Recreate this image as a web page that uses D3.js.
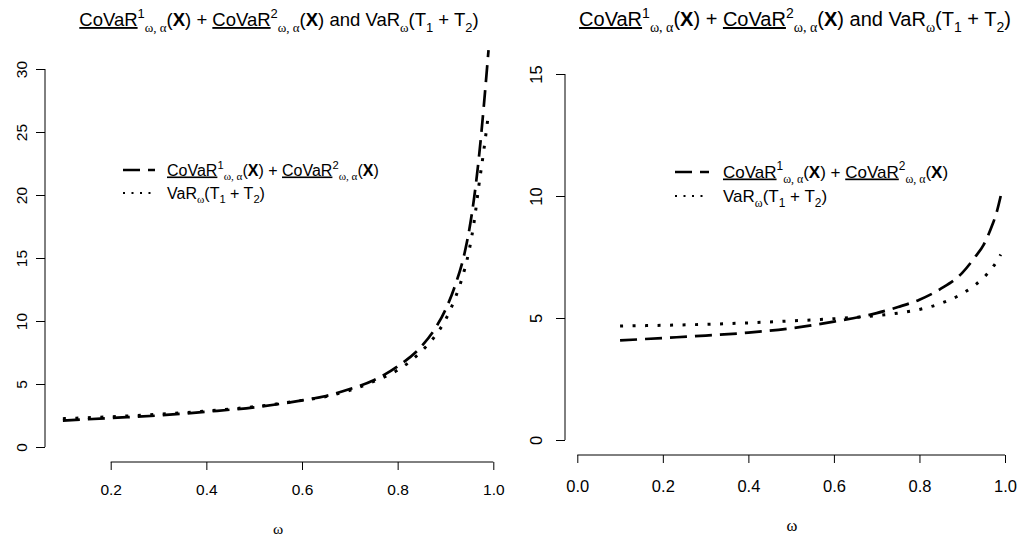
<!DOCTYPE html>
<html>
<head>
<meta charset="utf-8">
<script src="https://cdn.jsdelivr.net/npm/d3@7"></script>
<style>
  body { margin: 0; background: #fff; }
  svg { display: block; }
  text { font-family: "Liberation Sans", Arial, sans-serif; fill: #000; }
</style>
</head>
<body>
<div class="graph"></div>
<script>
// omega grid and values
var omegaLeft = [0.1, 0.2, 0.3, 0.4, 0.5, 0.6, 0.65, 0.7, 0.75, 0.8, 0.85, 0.88, 0.9, 0.92, 0.94, 0.95, 0.96, 0.97, 0.98, 0.99];
var covarLeft = [2.1, 2.3, 2.5, 2.8, 3.15, 3.7, 4.05, 4.6, 5.3, 6.4, 8.0, 9.5, 10.9, 12.8, 15.4, 17.3, 19.8, 23.0, 27.0, 31.5];
var varLeft   = [2.25, 2.4, 2.6, 2.85, 3.2, 3.7, 4.0, 4.5, 5.2, 6.1, 7.6, 8.9, 10.1, 11.8, 14.1, 15.7, 17.9, 20.8, 23.5, 26.5];

var omegaRight = [0.1, 0.2, 0.3, 0.4, 0.5, 0.6, 0.7, 0.75, 0.8, 0.85, 0.9, 0.93, 0.95, 0.97, 0.98, 0.99];
var covarRight = [4.08, 4.18, 4.28, 4.4, 4.58, 4.85, 5.2, 5.45, 5.75, 6.2, 6.85, 7.5, 8.0, 8.8, 9.3, 10.0];
var varRight   = [4.67, 4.7, 4.74, 4.8, 4.88, 4.97, 5.1, 5.2, 5.35, 5.6, 6.0, 6.35, 6.65, 7.05, 7.3, 7.6];

var xTicksLeft = [0.2, 0.4, 0.6, 0.8, 1.0];
var yTicksLeft = [0, 5, 10, 15, 20, 25, 30];
var xTicksRight = [0.0, 0.2, 0.4, 0.6, 0.8, 1.0];
var yTicksRight = [0, 5, 10, 15];

// plotmath-like pieces: [text, style]
var sumLabel = [["CoVaR","u"],["1","sup"],["ω, α","subg"],["("],["X","b"],[")"],[" + "],
                ["CoVaR","u"],["2","sup"],["ω, α","subg"],["("],["X","b"],[")"]];
var varLabel = [["VaR"],["ω","subg"],["(T"],["1","sub"],[" + T"],["2","sub"],[")"]];
var titleLabel = sumLabel.concat([[" and VaR"],["ω","subg"],["(T"],["1","sub"],[" + T"],["2","sub"],[")"]]);

var W = 1018, H = 540;
var svg = d3.select(".graph").append("svg").attr("width", W).attr("height", H);

function richText(g, x, y, pieces, size, anchor) {
  var t = g.append("text").attr("x", x).attr("y", y)
    .attr("text-anchor", anchor || "start").style("font-size", size + "px");
  var cur = 0;
  pieces.forEach(function(p) {
    var st = p[1] || "";
    var target = 0, fs = size;
    if (st == "sup") { target = -0.42 * size; fs = 0.7 * size; }
    if (st == "sub" || st == "subg") { target = 0.3 * size; fs = 0.7 * size; }
    var ts = t.append("tspan").attr("dy", target - cur).style("font-size", fs + "px").text(p[0]);
    cur = target;
    if (st == "u") ts.attr("text-decoration", "underline");
    if (st == "b") ts.style("font-weight", "bold");
    if (st == "subg") ts.style("font-family", "'Liberation Serif', serif");
  });
  return t;
}

function panel(cfg) {
  var g = svg.append("g");
  var x = d3.scaleLinear().domain([0, 1]).range([cfg.x0, cfg.x1]);
  var y = d3.scaleLinear().domain([0, cfg.yTop]).range([cfg.y0, cfg.y1]);

  // x axis, drawn only from first to last tick like R
  var xa = g.append("g").attr("transform", "translate(0," + cfg.xAxisY + ")")
    .call(d3.axisBottom(x).tickValues(cfg.xTicks).tickSize(8).tickPadding(cfg.xPad).tickFormat(d3.format(".1f")));
  xa.select(".domain").attr("d", "M" + x(cfg.xTicks[0]) + ",0H" + x(cfg.xTicks[cfg.xTicks.length - 1]));
  xa.selectAll("text").style("font-size", cfg.fs + "px").style("font-family", "'Liberation Sans', Arial, sans-serif");

  var ya = g.append("g").attr("transform", "translate(" + cfg.yAxisX + ",0)")
    .call(d3.axisLeft(y).tickValues(cfg.yTicks).tickSize(9).tickFormat(d3.format("d")));
  ya.select(".domain").attr("d", "M0," + y(cfg.yTicks[0]) + "V" + y(cfg.yTicks[cfg.yTicks.length - 1]));
  ya.selectAll("text").remove();
  ya.selectAll(".tick").append("text")
    .attr("transform", "translate(" + (-cfg.yLabOff) + ",0) rotate(-90)")
    .attr("text-anchor", "middle").attr("fill", "#000")
    .style("font-size", cfg.fs + "px")
    .text(function(d) { return d; });

  var line = d3.line().x(function(d) { return x(d[0]); }).y(function(d) { return y(d[1]); })
    .curve(d3.curveMonotoneX);
  g.append("path").datum(cfg.omega.map(function(o, i) { return [o, cfg.covar[i]]; }))
    .attr("d", line).attr("fill", "none").attr("stroke", "#000")
    .attr("stroke-width", 2.7).attr("stroke-dasharray", "17,8");
  g.append("path").datum(cfg.omega.map(function(o, i) { return [o, cfg.vr[i]]; }))
    .attr("d", line).attr("fill", "none").attr("stroke", "#000")
    .attr("stroke-width", 3).attr("stroke-dasharray", "3,9.5");

  // legend
  var lg = g.append("g");
  lg.append("line").attr("x1", cfg.legX).attr("x2", cfg.legX + cfg.legLen)
    .attr("y1", cfg.legY).attr("y2", cfg.legY)
    .attr("stroke", "#000").attr("stroke-width", 2.7).attr("stroke-dasharray", "17,8");
  lg.append("line").attr("x1", cfg.legX).attr("x2", cfg.legX + cfg.legLen)
    .attr("y1", cfg.legY + cfg.legGap).attr("y2", cfg.legY + cfg.legGap)
    .attr("stroke", "#000").attr("stroke-width", 2.2).attr("stroke-dasharray", "2,6.5");
  richText(lg, cfg.legTextX, cfg.legY + 5.5, sumLabel, cfg.legFs);
  richText(lg, cfg.legTextX, cfg.legY + cfg.legGap + 5.5, varLabel, cfg.legFs);

  richText(g, cfg.titleX, 26, titleLabel, cfg.titleFs, "middle");
  g.append("text").attr("x", cfg.xLabX).attr("y", cfg.xLabY).attr("text-anchor", "middle")
    .style("font-family", "'Liberation Serif', serif").style("font-size", cfg.fs + "px").text("ω");
}

panel({
  x0: 110.7 - 0.2 * 478.25, x1: 110.7 + 0.8 * 478.25,
  y0: 447, y1: 69, yTop: 30,
  xAxisY: 462, yAxisX: 45, yLabOff: 18, xPad: 14,
  xTicks: xTicksLeft, yTicks: yTicksLeft,
  omega: omegaLeft, covar: covarLeft, vr: varLeft,
  fs: 15.5, titleFs: 18.5, titleX: 279, xLabX: 278, xLabY: 534,
  legX: 123, legLen: 32, legY: 170, legGap: 23, legTextX: 167, legFs: 16
});

panel({
  x0: 577.3, x1: 1005,
  y0: 440, y1: 74, yTop: 15,
  xAxisY: 455, yAxisX: 565, yLabOff: 23, xPad: 17,
  xTicks: xTicksRight, yTicks: yTicksRight,
  omega: omegaRight, covar: covarRight, vr: varRight,
  fs: 16.5, titleFs: 20, titleX: 795, xLabX: 792, xLabY: 531,
  legX: 675, legLen: 34, legY: 172, legGap: 24, legTextX: 723, legFs: 17
});
</script>
</body>
</html>
